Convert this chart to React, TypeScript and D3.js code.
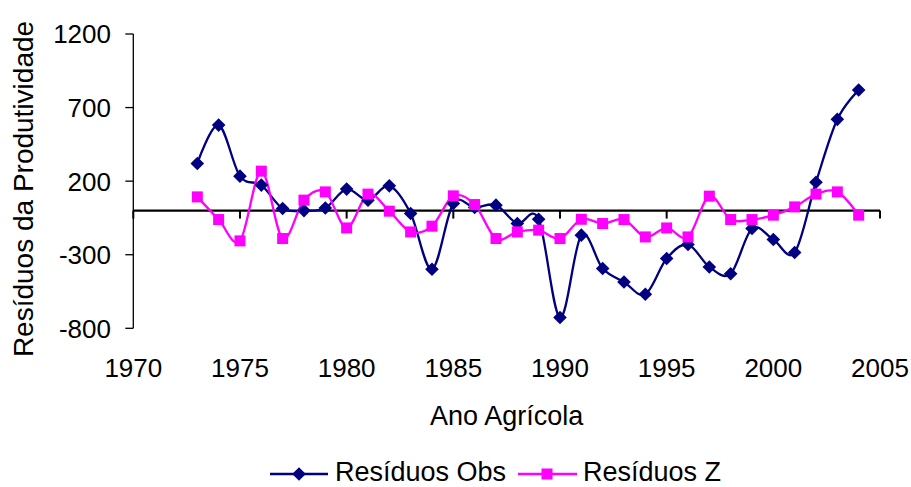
import React from "react";
import * as d3 from "d3";

const years = [1973,1974,1975,1976,1977,1978,1979,1980,1981,1982,1983,1984,1985,1986,1987,1988,1989,1990,1991,1992,1993,1994,1995,1996,1997,1998,1999,2000,2001,2002,2003,2004];
const residuosObs = [320,581,234,173,14,0,18,146,71,168,-20,-399,48,21,37,-88,-59,-727,-167,-394,-485,-569,-326,-231,-383,-429,-122,-197,-285,193,620,819];
const residuosZ = [93,-61,-206,268,-190,71,127,-118,112,-4,-145,-106,100,41,-190,-145,-133,-190,-59,-88,-61,-179,-118,-179,98,-61,-61,-31,25,112,127,-31];
const xTicks = [1970,1975,1980,1985,1990,1995,2000,2005];
const yTicks = [1200,700,200,-300,-800];

const W = 911, H = 487;
const FONT = "'Liberation Sans', Arial, sans-serif";
const NAVY = "#000080";
const MAGENTA = "#FF00FF";

export default function App() {
  const x = d3.scaleLinear().domain([1970, 2005]).range([133.3, 880]);
  const y = d3.scaleLinear().domain([-800, 1200]).range([328.3, 34]);
  const line = d3.line<number>()
    .x((_, i) => x(years[i]))
    .y((d) => y(d))
    .curve(d3.curveCatmullRom.alpha(0));
  const diamond = (cx: number, cy: number, r: number) =>
    `M${cx},${cy - r}L${cx + r},${cy}L${cx},${cy + r}L${cx - r},${cy}Z`;
  const sq = 11;
  const legY = 474;

  return (
    <svg width={W} height={H} style={{ position: "absolute", left: 0, top: 0, background: "#fff" }} fontFamily={FONT}>
      {/* axes */}
      <line x1={x(1970)} x2={x(1970)} y1={y(1200)} y2={y(-800)} stroke="#000" strokeWidth={1.3} />
      {yTicks.map((t) => (
        <g key={t}>
          <line x1={x(1970) - 8} x2={x(1970)} y1={y(t)} y2={y(t)} stroke="#000" strokeWidth={1.3} />
          <text x={111} y={y(t)} dy="0.36em" textAnchor="end" fontSize={26} fill="#000">{t}</text>
        </g>
      ))}
      <line x1={x(1970)} x2={x(2005)} y1={y(0)} y2={y(0)} stroke="#000" strokeWidth={2.2} />
      {xTicks.map((t) => (
        <g key={t}>
          <line x1={x(t)} x2={x(t)} y1={y(0)} y2={y(0) + 8} stroke="#000" strokeWidth={2} />
          <text x={x(t)} y={376.5} textAnchor="middle" fontSize={26} fill="#000">{t}</text>
        </g>
      ))}
      <text x={(x(1970) + x(2005)) / 2} y={425} textAnchor="middle" fontSize={27} fill="#000">Ano Agrícola</text>
      <text transform={`translate(33,189) rotate(-90)`} textAnchor="middle" fontSize={28} fill="#000">Resíduos da Produtividade</text>

      {/* series */}
      <path d={line(residuosObs) || ""} fill="none" stroke={NAVY} strokeWidth={2.3} />
      <path d={line(residuosZ) || ""} fill="none" stroke={MAGENTA} strokeWidth={2.3} />
      {residuosObs.map((v, i) => (
        <path key={"o" + i} d={diamond(x(years[i]), y(v), 6.8)} fill={NAVY} />
      ))}
      {residuosZ.map((v, i) => (
        <rect key={"z" + i} x={x(years[i]) - sq / 2} y={y(v) - sq / 2} width={sq} height={sq} fill={MAGENTA} />
      ))}

      {/* legend */}
      <line x1={270} x2={328} y1={legY} y2={legY} stroke={NAVY} strokeWidth={2.3} />
      <path d={diamond(299, legY, 6.8)} fill={NAVY} />
      <text x={335} y={481} fontSize={27} fill="#000">Resíduos Obs</text>
      <line x1={518} x2={577} y1={legY} y2={legY} stroke={MAGENTA} strokeWidth={2.3} />
      <rect x={547 - sq / 2} y={legY - sq / 2} width={sq} height={sq} fill={MAGENTA} />
      <text x={583} y={481} fontSize={27} fill="#000">Resíduos Z</text>
    </svg>
  );
}
